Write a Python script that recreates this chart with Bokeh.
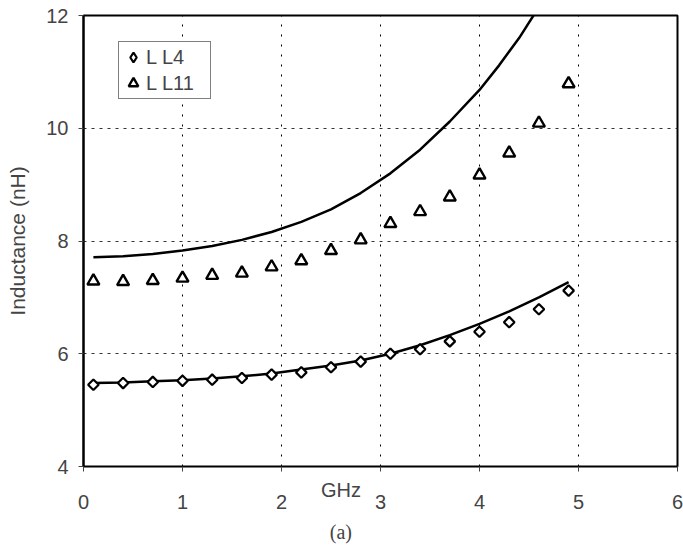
import math
from bokeh.plotting import figure
from bokeh.models import Range1d, FixedTicker, Legend, LegendItem, LinearAxis
from bokeh.embed import file_html
from bokeh.resources import INLINE

# Measured points (frequency in GHz, inductance in nH)
freq = [0.1, 0.4, 0.7, 1.0, 1.3, 1.6, 1.9, 2.2, 2.5, 2.8, 3.1, 3.4, 3.7, 4.0, 4.3, 4.6, 4.9]
l4 = [5.45, 5.48, 5.50, 5.52, 5.54, 5.57, 5.63, 5.67, 5.76, 5.86, 6.00, 6.08, 6.22, 6.39, 6.56, 6.79, 7.12]
l11 = [7.29, 7.28, 7.30, 7.34, 7.39, 7.43, 7.54, 7.65, 7.83, 8.02, 8.31, 8.52, 8.78, 9.17, 9.56, 10.09, 10.79]

# Model curves
fit_l4_x = [0.1, 0.4, 0.7, 1.0, 1.3, 1.6, 1.9, 2.2, 2.5, 2.8, 3.1, 3.4, 3.7, 4.0, 4.3, 4.6, 4.9]
fit_l4_y = [5.48, 5.49, 5.51, 5.53, 5.56, 5.60, 5.65, 5.72, 5.79, 5.88, 6.00, 6.15, 6.33, 6.53, 6.75, 7.00, 7.27]
fit_l11_x = [0.1, 0.4, 0.7, 1.0, 1.3, 1.6, 1.9, 2.2, 2.5, 2.8, 3.1, 3.4, 3.7, 4.0, 4.2, 4.4, 4.6]
fit_l11_y = [7.71, 7.73, 7.77, 7.83, 7.91, 8.02, 8.16, 8.34, 8.56, 8.85, 9.20, 9.62, 10.12, 10.68, 11.12, 11.60, 12.15]

x_ticks = [0, 1, 2, 3, 4, 5, 6]
y_ticks = [4, 6, 8, 10, 12]
caption_at = 2.6   # "GHz" and "(a)" sit between the 2 and 3 ticks

FONT = "Liberation Sans"
TICK_GREY = "#444444"

p = figure(width=683, height=550, output_backend="svg", toolbar_location=None,
           x_range=Range1d(0, 6), y_range=Range1d(4, 12),
           min_border_left=83, min_border_right=6, min_border_top=15, min_border_bottom=84)
p.frame_width = 594
p.frame_height = 451

p.outline_line_color = "black"
p.outline_line_width = 2

# y axis
yax = p.yaxis[0]
yax.ticker = FixedTicker(ticks=y_ticks)
yax.axis_line_width = 2
yax.axis_line_color = "black"
yax.major_tick_out = 5
yax.major_tick_in = 0
yax.minor_tick_out = 0
yax.minor_tick_in = 0
yax.major_tick_line_color = TICK_GREY
yax.major_label_text_font = FONT
yax.major_label_text_font_size = "20px"
yax.major_label_standoff = 10
yax.axis_label = "Inductance (nH)"
yax.axis_label_text_font = FONT
yax.axis_label_text_font_size = "21px"
yax.axis_label_text_font_style = "normal"
yax.axis_label_standoff = 14


def bare_axis(axis):
    axis.axis_line_color = None
    axis.major_tick_line_color = None
    axis.minor_tick_line_color = None
    axis.major_tick_out = 0
    axis.major_tick_in = 0
    axis.minor_tick_out = 0
    axis.minor_tick_in = 0


# x axis, first row: tick marks plus the "GHz" caption
xcap = LinearAxis(ticker=FixedTicker(ticks=[caption_at], minor_ticks=x_ticks),
                  major_label_overrides={caption_at: "GHz"})
bare_axis(xcap)
xcap.major_tick_out = 5
xcap.minor_tick_out = 5
xcap.minor_tick_line_color = TICK_GREY
xcap.major_label_text_font = FONT
xcap.major_label_text_font_size = "20px"
xcap.major_label_standoff = 7

# x axis, second row: the numbers
xax = p.xaxis[0]
xax.ticker = FixedTicker(ticks=x_ticks)
bare_axis(xax)
xax.major_label_text_font = FONT
xax.major_label_text_font_size = "20px"
xax.major_label_standoff = -9

# panel caption "(a)" under everything
xsub = LinearAxis(ticker=FixedTicker(ticks=[caption_at]),
                  major_label_overrides={caption_at: "(a)"})
bare_axis(xsub)
xsub.major_label_text_font = "Liberation Serif"
xsub.major_label_text_font_size = "20px"
xsub.major_label_standoff = 9

p.below = [xcap, xax, xsub]

p.xgrid.ticker = FixedTicker(ticks=x_ticks)
p.xgrid.grid_line_color = "black"
p.xgrid.grid_line_dash = "2 8"
p.xgrid.grid_line_width = 1
p.ygrid.grid_line_color = "#333333"
p.ygrid.grid_line_dash = "3 5"
p.ygrid.grid_line_width = 1

# model curves
p.line(fit_l11_x, fit_l11_y, line_color="black", line_width=2.5)
p.line(fit_l4_x, fit_l4_y, line_color="black", line_width=2.5)

# measured points
p.scatter(freq, l4, marker="square", angle=math.pi / 4, size=7.5,
          fill_color="white", line_color="black", line_width=2.2)
r11 = p.scatter(freq, l11, marker="triangle", size=12,
                fill_color="white", line_color="black", line_width=2.4)

# hidden twin of the diamond series, used only for its legend swatch
r4_key = p.scatter(freq, l4, marker="diamond", size=11, visible=False,
                   fill_color="white", line_color="black", line_width=2.2)

legend = Legend(items=[LegendItem(label="L L4", renderers=[r4_key]),
                       LegendItem(label="L L11", renderers=[r11])],
                location=(35, 367))
legend.border_line_color = "black"
legend.border_line_width = 1
legend.background_fill_color = "white"
legend.background_fill_alpha = 1
legend.inactive_fill_alpha = 0
legend.label_text_font = FONT
legend.label_text_font_size = "20px"
legend.glyph_width = 24
legend.glyph_height = 26
legend.label_height = 26
legend.label_width = 62
legend.label_standoff = 1
legend.padding = 2
legend.spacing = 0
legend.margin = 0
legend.click_policy = "none"
p.add_layout(legend, "center")

open("out.html", "w").write(file_html(p, INLINE))
